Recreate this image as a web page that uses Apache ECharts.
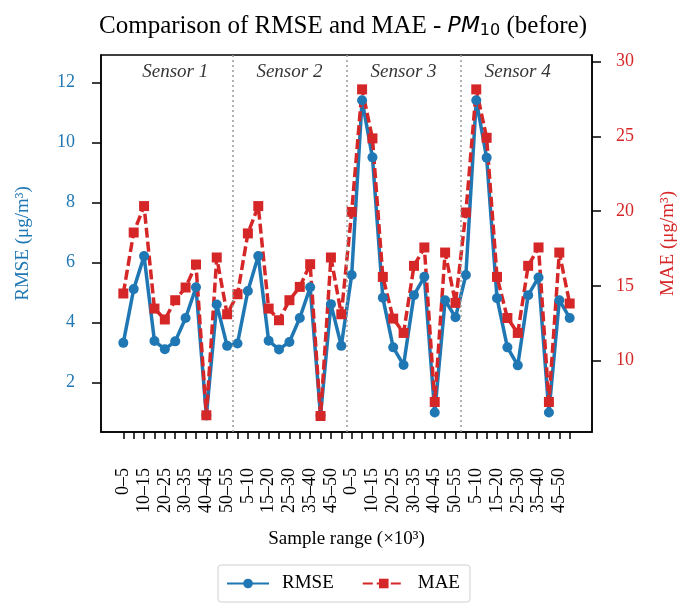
<!DOCTYPE html>
<html>
<head>
<meta charset="utf-8">
<script src="https://cdn.jsdelivr.net/npm/echarts@6.0.0/dist/echarts.min.js"></script>
<style>
  html, body { margin: 0; padding: 0; background: #fff; }
  #chart { width: 686px; height: 613px; }
</style>
</head>
<body>
<div id="chart"></div>
<script>
// sample ranges per sensor (x10^3)
var ranges = ['0–5', '5–10', '10–15', '15–20', '20–25', '25–30', '30–35', '35–40', '40–45', '45–50', '50–55'];
var sensors = ['Sensor 1', 'Sensor 2', 'Sensor 3', 'Sensor 4'];

var rmse1 = [3.32, 5.11, 6.21, 3.38, 3.11, 3.37, 4.15, 5.17, 0.90, 4.60, 3.22];
var rmse2 = [3.30, 5.05, 6.21, 3.39, 3.10, 3.35, 4.15, 5.17, 0.90, 4.61, 3.22];
var rmse3 = [5.58, 11.40, 9.50, 4.82, 3.17, 2.58, 4.91, 5.52, 1.00, 4.74, 4.17];
var rmse4 = [5.58, 11.40, 9.49, 4.81, 3.17, 2.57, 4.91, 5.50, 1.00, 4.74, 4.15];

var mae1 = [14.49, 18.57, 20.34, 13.48, 12.75, 14.04, 14.89, 16.43, 6.34, 16.90, 13.10];
var mae2 = [14.44, 18.51, 20.34, 13.48, 12.70, 14.04, 14.93, 16.45, 6.29, 16.90, 13.10];
var mae3 = [19.95, 28.15, 24.87, 15.60, 12.81, 11.85, 16.34, 17.57, 7.23, 17.23, 13.86];
var mae4 = [19.91, 28.15, 24.91, 15.60, 12.85, 11.85, 16.34, 17.57, 7.23, 17.23, 13.82];

var rmseTicks = [2, 4, 6, 8, 10, 12];
var maeTicks = [10, 15, 20, 25, 30];

var BLUE = '#1f77b4';
var RED = '#d62728';
var SERIF = '"Liberation Serif", "DejaVu Serif", serif';

var categories = [].concat(ranges, ranges, ranges, ranges);
var rmse = [].concat(rmse1, rmse2, rmse3, rmse4);
var mae = [].concat(mae1, mae2, mae3, mae4);
var n = ranges.length;

var xTicks = categories.map(function (c, i) { return i; });
var xLabels = xTicks.filter(function (i) { return i % 2 === 0; });

var separators = sensors.slice(1).map(function (s, g) { return { xAxis: (g + 1) * n - 0.5 }; });
var sensorMarks = sensors.map(function (s, g) { return { value: [g * n + (n - 1) / 2, 12.33], name: s }; });

var chart = echarts.init(document.getElementById('chart'), null, { renderer: 'canvas' });

chart.setOption({
  backgroundColor: '#fff',
  animation: false,
  title: {
    text: '{a|Comparison of RMSE and MAE - }{b|PM}{c|10}{a| (before)}',
    left: 'center',
    top: 5,
    textStyle: {
      fontWeight: 'normal',
      rich: {
        a: { fontFamily: SERIF, fontWeight: 'normal', fontSize: 25, color: '#000', lineHeight: 32 },
        b: { fontFamily: '"DejaVu Sans"', fontWeight: 'normal', fontStyle: 'italic', fontSize: 22, color: '#000', lineHeight: 32 },
        c: { fontFamily: '"DejaVu Sans"', fontWeight: 'normal', fontSize: 16, color: '#000', lineHeight: 32, padding: [10, 0, 0, 0] }
      }
    }
  },
  grid: {
    left: 101, right: 94, top: 55, bottom: 181,
    show: true, borderColor: '#000', borderWidth: 1.5,
    containLabel: false, outerBoundsMode: 'none'
  },
  legend: {
    data: ['RMSE', 'MAE'],
    bottom: 11,
    left: 'center',
    itemWidth: 42,
    itemHeight: 12,
    itemGap: 28,
    padding: [9, 10, 9, 8],
    borderColor: '#d0d0d0',
    borderWidth: 1,
    borderRadius: 3,
    textStyle: { fontFamily: SERIF, fontSize: 19, color: '#000', padding: [0, 0, 0, 8] }
  },
  xAxis: {
    type: 'value',
    min: -2.15,
    max: 45.15,
    name: 'Sample range (×10³)',
    nameLocation: 'middle',
    nameGap: 98,
    nameTextStyle: { fontFamily: SERIF, fontSize: 19, color: '#000' },
    axisLine: { onZero: false, lineStyle: { color: '#000', width: 1.5 } },
    axisTick: { show: true, length: 7, customValues: xTicks, lineStyle: { color: '#000', width: 1.5 } },
    axisLabel: {
      customValues: xLabels,
      rotate: 90,
      margin: 36,
      fontFamily: SERIF,
      fontSize: 18,
      color: '#000',
      formatter: function (v) { return categories[v] || ''; }
    },
    splitLine: { show: false }
  },
  yAxis: [{
    type: 'value',
    position: 'left',
    min: 0.35,
    max: 12.91,
    name: 'RMSE (μg/m³)',
    nameLocation: 'middle',
    nameRotate: 90,
    nameGap: 68,
    nameTextStyle: { fontFamily: SERIF, fontSize: 19, color: BLUE },
    axisLine: { show: true, onZero: false, lineStyle: { color: '#000', width: 1.5 } },
    axisTick: { show: true, length: 9, customValues: rmseTicks, lineStyle: { color: '#000', width: 1.5 } },
    axisLabel: { customValues: rmseTicks, margin: 26, fontFamily: SERIF, fontSize: 18, color: BLUE },
    splitLine: { show: false }
  }, {
    type: 'value',
    position: 'right',
    min: 5.22,
    max: 30.45,
    name: 'MAE (μg/m³)',
    nameLocation: 'middle',
    nameRotate: 90,
    nameGap: 67,
    nameTextStyle: { fontFamily: SERIF, fontSize: 19, color: RED },
    axisLine: { show: true, onZero: false, lineStyle: { color: '#000', width: 1.5 } },
    axisTick: { show: true, length: 9, customValues: maeTicks, lineStyle: { color: '#000', width: 1.5 } },
    axisLabel: { customValues: maeTicks, margin: 24, fontFamily: SERIF, fontSize: 18, color: RED },
    splitLine: { show: false }
  }],
  series: [{
    name: 'RMSE',
    type: 'line',
    yAxisIndex: 0,
    data: rmse.map(function (v, i) { return [i, v]; }),
    symbol: 'circle',
    symbolSize: 10,
    showAllSymbol: true,
    lineStyle: { color: BLUE, width: 3.5 },
    itemStyle: { color: BLUE },
    markLine: {
      silent: true,
      symbol: ['none', 'none'],
      label: { show: false },
      lineStyle: { color: '#999', type: [2, 3], width: 1.5 },
      data: separators
    }
  }, {
    name: 'MAE',
    type: 'line',
    yAxisIndex: 1,
    data: mae.map(function (v, i) { return [i, v]; }),
    symbol: 'rect',
    symbolSize: 10,
    showAllSymbol: true,
    lineStyle: { color: RED, width: 3.5, type: [10, 4] },
    itemStyle: { color: RED }
  }, {
    name: 'sensors',
    type: 'scatter',
    yAxisIndex: 0,
    silent: true,
    symbolSize: 1,
    itemStyle: { color: 'transparent' },
    data: sensorMarks,
    label: {
      show: true,
      position: 'inside',
      formatter: function (p) { return p.name; },
      fontFamily: SERIF,
      fontStyle: 'italic',
      fontSize: 19,
      color: '#000'
    }
  }]
});
</script>
</body>
</html>
